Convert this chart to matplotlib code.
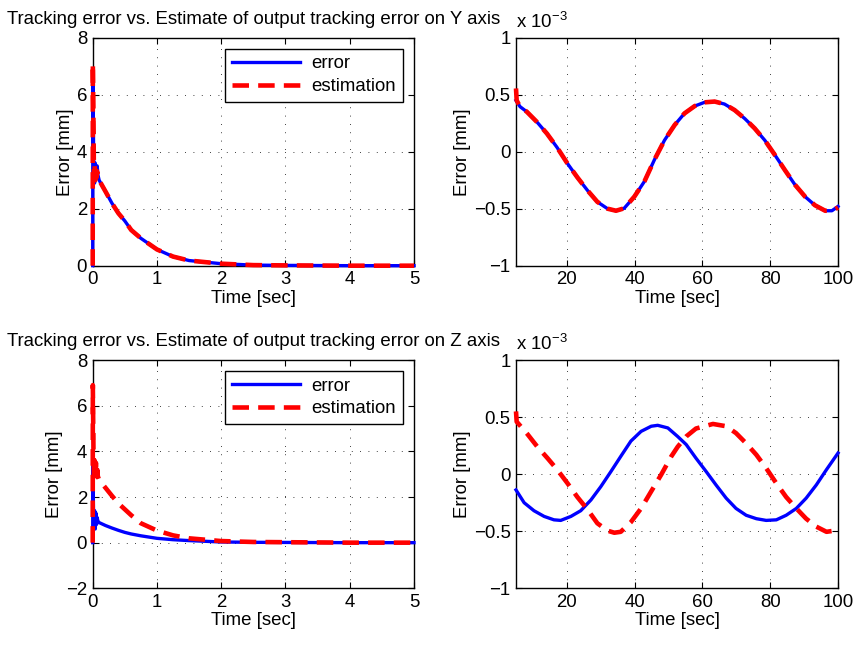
import matplotlib
matplotlib.use("Agg")
import matplotlib.pyplot as plt
from matplotlib.ticker import FuncFormatter

FS = 13.4
plt.rcParams['font.family'] = ['Liberation Sans', 'DejaVu Sans']
plt.rcParams['font.size'] = FS

# transient part (0..5 s)
t_tr = [0, 0.002, 0.012, 0.02, 0.03, 0.04, 0.05, 0.06, 0.07, 0.08, 0.1, 0.2, 0.3,
        0.4, 0.5, 0.6, 0.75, 1.0, 1.25, 1.5, 2.0, 2.5, 3.0, 4.0, 5.0]
y_err_tr = [0, 6.7, 4.5, 3.0, 2.9, 3.6, 3.4, 3.1, 3.5, 3.2, 3.0, 2.6, 2.19,
            1.84, 1.57, 1.25, 0.96, 0.57, 0.32, 0.18, 0.07, 0.02, 0.01, 0.0, 0.0]
y_est_tr = [0, 7.1, 5.0, 3.0, 3.5, 3.0, 3.4, 3.1, 3.3, 3.1, 3.0, 2.6, 2.19,
            1.84, 1.57, 1.25, 0.96, 0.57, 0.32, 0.18, 0.07, 0.02, 0.01, 0.0, 0.0]
z_err_tr = [0, 3.4, 1.5, 0.6, 1.4, 0.6, 1.3, 0.8, 1.1, 0.95, 0.88, 0.75, 0.64,
            0.54, 0.45, 0.38, 0.3, 0.19, 0.13, 0.09, 0.03, 0.015, 0.01, 0.0, 0.0]
z_est_tr = [0, 6.9, 4.0, 2.8, 3.6, 3.0, 3.5, 2.9, 3.2, 2.9, 2.75, 2.4, 2.05,
            1.72, 1.46, 1.2, 0.85, 0.53, 0.32, 0.19, 0.07, 0.03, 0.02, 0.0, 0.0]

# steady-state part (5..100 s), values in units of 1e-3 mm
t_y = [5, 5.2, 6.2, 8.2, 11.2, 14.1, 17.1, 20.1, 23.1, 26.1, 29.0, 32.0, 34.5,
       36.9, 39.9, 42.9, 45.8, 48.8, 51.8, 54.7, 57.7, 60.6, 63.6, 66.5, 69.5,
       72.5, 75.4, 78.4, 81.4, 84.3, 87.3, 90.3, 93.2, 96.2, 98.2, 100]
y_err_ss = [0.45, 0.44, 0.395, 0.35, 0.26, 0.16, 0.038, -0.10, -0.225, -0.34,
            -0.44, -0.50, -0.518, -0.497, -0.395, -0.26, -0.073, 0.10, 0.234,
            0.336, 0.40, 0.433, 0.44, 0.418, 0.365, 0.29, 0.205, 0.10, -0.03,
            -0.16, -0.29, -0.395, -0.47, -0.518, -0.518, -0.48]
y_est_ss = [0.555, 0.45, 0.395, 0.35, 0.26, 0.16, 0.038, -0.10, -0.225, -0.34,
            -0.44, -0.50, -0.518, -0.497, -0.395, -0.26, -0.073, 0.10, 0.234,
            0.336, 0.40, 0.433, 0.44, 0.418, 0.365, 0.29, 0.205, 0.10, -0.03,
            -0.16, -0.29, -0.395, -0.47, -0.518, -0.518, -0.49]

t_ze = [5, 7.4, 10.3, 13.3, 16.2, 18.2, 21.2, 24.1, 27.1, 30.0, 33.0, 36.0, 38.9,
        41.9, 44.9, 46.8, 49.8, 52.7, 55.2, 58.1, 61.1, 64.0, 67.0, 69.9, 72.9,
        75.9, 78.8, 81.8, 84.7, 87.7, 90.6, 93.6, 96.6, 100]
z_err_ss = [-0.138, -0.25, -0.32, -0.37, -0.40, -0.405, -0.37, -0.32, -0.226,
            -0.11, 0.023, 0.16, 0.29, 0.375, 0.42, 0.428, 0.405, 0.33, 0.26, 0.14,
            0.023, -0.094, -0.21, -0.30, -0.36, -0.39, -0.405, -0.40, -0.36,
            -0.30, -0.21, -0.094, 0.04, 0.185]

t_zs = [5, 5.2, 8.4, 11.3, 14.3, 17.2, 20.2, 23.1, 26.1, 29.0, 32.0, 34.0, 35.9,
        38.9, 41.9, 44.9, 47.8, 50.8, 52.7, 55.2, 58.1, 63.1, 67.0, 69.9, 72.9,
        75.9, 78.8, 81.8, 84.7, 87.7, 90.6, 93.6, 96.6, 100]
z_est_ss = [0.55, 0.46, 0.35, 0.24, 0.14, 0.038, -0.08, -0.20, -0.31, -0.43,
            -0.495, -0.513, -0.505, -0.42, -0.30, -0.15, -0.006, 0.155, 0.24,
            0.33, 0.40, 0.44, 0.42, 0.36, 0.27, 0.17, 0.053, -0.08, -0.20, -0.30,
            -0.39, -0.46, -0.505, -0.49]

BLUE = '#0000ff'
RED = '#ff0000'
dash = (0, (3.6, 2.0))


def fmt(v, pos):
    return ('%g' % v).replace('-', '\u2212')


def style(ax):
    ax.tick_params(direction='in', top=True, right=True, length=4, width=0.8,
                   labelsize=FS, pad=4)
    ax.grid(True, color='black', linestyle=(0, (1, 9)), linewidth=0.6)
    for s in ax.spines.values():
        s.set_linewidth(1.0)
    ax.yaxis.set_major_formatter(FuncFormatter(fmt))
    ax.xaxis.set_major_formatter(FuncFormatter(fmt))
    ax.set_xlabel('Time [sec]', labelpad=1)
    ax.set_ylabel('Error [mm]', labelpad=2)


fig = plt.figure(figsize=(8.56, 6.48), dpi=100)
ax1 = fig.add_axes([0.1083, 0.590, 0.3753, 0.3518])
ax2 = fig.add_axes([0.6028, 0.590, 0.3762, 0.3518])
ax3 = fig.add_axes([0.1083, 0.0921, 0.3753, 0.3523])
ax4 = fig.add_axes([0.6028, 0.0921, 0.3762, 0.3523])

panels = [
    (ax1, t_tr, y_err_tr, y_est_tr, (0, 8), 'Y'),
    (ax3, t_tr, z_err_tr, z_est_tr, (-2, 8), 'Z'),
]
for ax, t, e, s, yl, name in panels:
    ax.plot(t, e, color=BLUE, lw=2.4, label='error', clip_on=False, zorder=3)
    ax.plot(t, s, color=RED, lw=3.3, linestyle=dash, label='estimation',
            clip_on=False, zorder=3)
    ax.set_xlim(0, 5)
    ax.set_ylim(*yl)
    ax.set_xticks([0, 1, 2, 3, 4, 5])
    ax.set_yticks(range(yl[0], 9, 2))
    style(ax)
    ax.set_title('Tracking error vs. Estimate of output tracking error on %s axis' % name,
                 fontsize=FS, pad=10)
    leg = ax.legend(loc='upper right', fancybox=False, framealpha=1, edgecolor='black',
                    handlelength=3.7, borderaxespad=0.6, fontsize=FS,
                    borderpad=0.35, labelspacing=0.3, handletextpad=0.6)
    leg.get_frame().set_linewidth(1.0)
    leg.set_zorder(5)

for ax, te, e, ts, s in [(ax2, t_y, y_err_ss, t_y, y_est_ss),
                         (ax4, t_ze, z_err_ss, t_zs, z_est_ss)]:
    ax.plot(te, e, color=BLUE, lw=2.4, clip_on=False, zorder=3)
    ax.plot(ts, s, color=RED, lw=3.3, linestyle=dash, clip_on=False, zorder=3)
    ax.set_xlim(5, 100)
    ax.set_ylim(-1, 1)
    ax.set_xticks([20, 40, 60, 80, 100])
    ax.set_yticks([-1, -0.5, 0, 0.5, 1])
    style(ax)
    ax.text(0.0, 1.025, 'x 10$^{\\mathregular{\u22123}}$', transform=ax.transAxes,
            ha='left', va='bottom', fontsize=FS)

fig.savefig('out.png', dpi=100)
